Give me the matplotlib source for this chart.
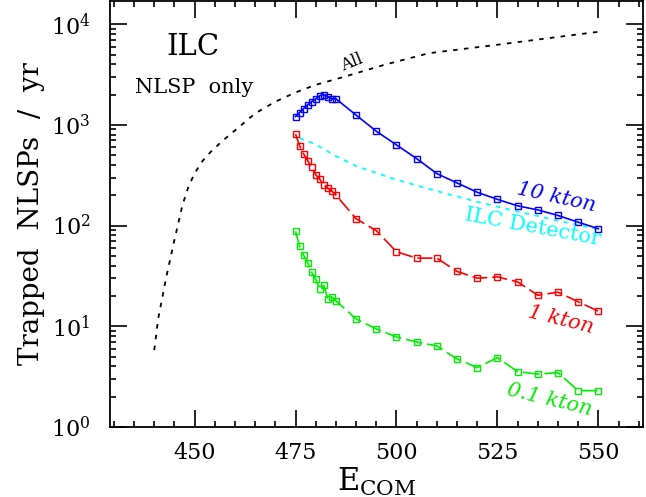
#!/usr/bin/env python
# Trapped NLSPs per year at the ILC vs centre-of-mass energy

import numpy as np
import matplotlib as mpl
mpl.use("Agg")
from matplotlib import pyplot as plt
from matplotlib.ticker import MultipleLocator, LogLocator, NullFormatter

mpl.rcParams['font.family'] = 'DejaVu Serif'
mpl.rcParams['mathtext.fontset'] = 'dejavuserif'

# energies for the detector curves
ecom = [475, 476, 477, 478, 479, 480, 481, 482, 483, 484, 485,
        490, 495, 500, 505, 510, 515, 520, 525, 530, 535, 540, 545, 550]

kton10 = [1210, 1325, 1450, 1580, 1705, 1815, 1945, 1990, 1900, 1815, 1815,
          1250, 865, 632, 462, 328, 265, 214, 182, 157, 143, 126, 108, 93]
kton1 = [808, 622, 515, 441, 379, 320, 288, 251, 234, 220, 201,
         117, 88.8, 54.9, 47.5, 47.5, 35.0, 30.0, 30.9, 27.6, 20.3, 21.8, 17.5, 14.1]
kton01 = [87.5, 62.5, 50.5, 42.6, 34.2, 29.2, 23.5, 25.4, 18.7, 19.6, 17.9,
          11.8, 9.4, 7.83, 6.98, 6.37, 4.73, 3.88, 4.88, 3.54, 3.35, 3.46, 2.29, 2.29]

# ILC detector (smooth curve)
ilc_e = [476, 480, 485, 490, 500, 510, 520, 530, 540, 550]
ilc_n = [740, 640, 490, 390, 285, 220, 172, 138, 112, 92]

# all produced NLSPs
all_e = [440, 441, 443, 445, 447, 448.5, 450, 452, 454, 457, 460, 465, 470,
         475, 480, 487, 497, 508, 525, 538, 550]
all_n = [5.8, 12, 31, 72, 160, 245, 330, 440, 540, 700, 880, 1300, 1700,
         2100, 2500, 3000, 3950, 5150, 6250, 7300, 8400]

fig = plt.figure(figsize=(6.46, 4.97), dpi=100)
ax = fig.add_axes([0.170, 0.141, 0.825, 0.857])

ms = 5.0
ax.plot(all_e, all_n, color='black', lw=1.3, dashes=(2.5, 3.5))
ax.plot(ilc_e, ilc_n, color='#00ffff', lw=1.3, dashes=(2.5, 3.0))
ax.plot(ecom, kton10, color='blue', lw=1.2, marker='s', ms=ms, mfc='none', mew=1.0)
ax.plot(ecom, kton1, color='red', lw=1.2, marker='s', ms=ms, mfc='none', mew=1.0,
        dashes=(9, 3))
ax.plot(ecom, kton01, color='#00ee00', lw=1.2, marker='s', ms=ms, mfc='none', mew=1.0,
        dashes=(10, 3))

ax.set_yscale('log')
ax.set_xlim(429, 561)
ax.set_ylim(1, 1.7e4)

ax.xaxis.set_major_locator(MultipleLocator(25))
ax.xaxis.set_minor_locator(MultipleLocator(5))
ax.yaxis.set_major_locator(LogLocator(base=10))
ax.yaxis.set_minor_locator(LogLocator(base=10, subs=np.arange(2, 10)))
ax.yaxis.set_minor_formatter(NullFormatter())

ax.tick_params(which='both', direction='in', top=True, right=True, width=1.2)
ax.tick_params(which='major', length=12, labelsize=16)
ax.tick_params(axis='x', which='major', pad=11)
ax.tick_params(axis='y', which='major', pad=14)
ax.tick_params(which='minor', length=4.5)
for s in ax.spines.values():
    s.set_linewidth(1.3)

ax.set_xlabel(r'$\mathrm{E}_{\mathrm{COM}}$', fontsize=22, labelpad=1)
ax.set_ylabel('Trapped  NLSPs  /  yr', fontsize=20, labelpad=4)

# labels
kw = dict(ha='center', va='center', rotation_mode='anchor')
ax.text(449.7, 5970, 'ILC', fontsize=21, **kw)
ax.text(450, 2335, 'NLSP  only', fontsize=15, **kw)
ax.text(489, 4140, 'All', fontsize=12, rotation=22, **kw)
ax.text(539.5, 190, '10 kton', fontsize=15, color='blue', style='italic',
        rotation=-12.5, **kw)
ax.text(533.8, 97, 'ILC Detector', fontsize=15, color='#00ffff',
        rotation=-10.5, **kw)
ax.text(540.6, 11.5, '1 kton', fontsize=15, color='red', style='italic',
        rotation=-14, **kw)
ax.text(537.9, 1.84, '0.1 kton', fontsize=15, color='#00ee00', style='italic',
        rotation=-13.5, **kw)

fig.savefig('out.png', dpi=100)
